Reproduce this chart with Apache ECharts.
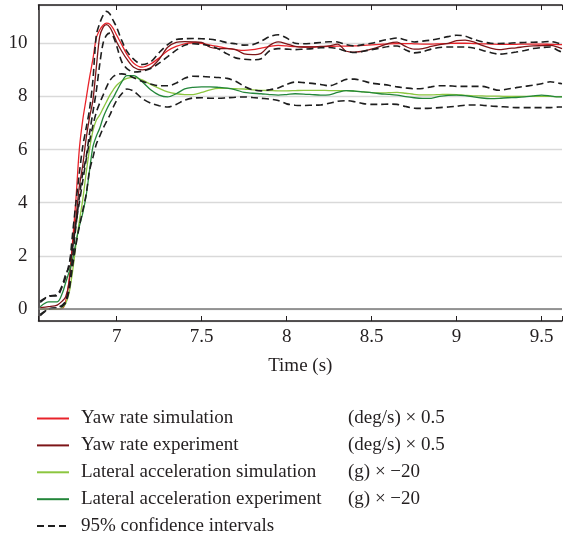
<!DOCTYPE html>
<html>
<head>
<meta charset="utf-8">
<script src="https://cdn.jsdelivr.net/npm/echarts@6/dist/echarts.min.js"></script>
<style>
  html, body { margin: 0; padding: 0; background: #fff; }
  #chart { width: 565px; height: 537px; }
</style>
</head>
<body>
<div id="chart"></div>
<script>
// time axis (s), shared by every curve
const time = [6.55, 6.6, 6.65, 6.68, 6.7, 6.72, 6.74, 6.76, 6.78, 6.8,
  6.82, 6.84, 6.86, 6.88, 6.9, 6.92, 6.94, 6.96, 6.98, 7.0,
  7.03, 7.06, 7.1, 7.15, 7.2, 7.25, 7.3, 7.35, 7.4, 7.45,
  7.5, 7.55, 7.6, 7.65, 7.7, 7.75, 7.8, 7.85, 7.9, 7.95,
  8.0, 8.05, 8.1, 8.15, 8.2, 8.25, 8.3, 8.35, 8.4, 8.45,
  8.5, 8.55, 8.6, 8.65, 8.7, 8.75, 8.8, 8.85, 8.9, 8.95,
  9.0, 9.05, 9.1, 9.15, 9.2, 9.25, 9.3, 9.35, 9.4, 9.45,
  9.5, 9.55, 9.6, 9.62];

// yaw rate (deg/s) x 0.5
const yawSim = [0, 0, 0, 0.02, 0.3, 1.1, 2.5, 4.1, 6.0, 7.1,
  7.9, 8.7, 9.4, 10.2, 10.5, 10.68, 10.76, 10.72, 10.55, 10.3,
  9.95, 9.58, 9.25, 9.1, 9.22, 9.45, 9.72, 9.88, 9.98, 10.02,
  10.0, 9.93, 9.87, 9.81, 9.76, 9.73, 9.76, 9.82, 9.88, 9.92,
  9.9, 9.87, 9.86, 9.86, 9.87, 9.88, 9.89, 9.89, 9.9, 9.92,
  9.94, 9.96, 9.98, 9.99, 9.99, 9.98, 9.97, 9.97, 9.98, 9.99,
  10.0, 10.0, 9.99, 9.98, 9.97, 9.96, 9.96, 9.96, 9.97, 9.97,
  9.97, 9.96, 9.95, 9.95];
const yawExp = [0.05, 0.09, 0.15, 0.3, 0.46, 1.0, 2.3, 3.4, 4.6, 5.4,
  6.4, 7.2, 7.85, 9.08, 10.25, 10.6, 10.7, 10.6, 10.35, 10.05,
  9.7, 9.4, 9.1, 9.0, 9.08, 9.4, 9.85, 10.03, 10.06, 10.05,
  10.03, 9.85, 9.8, 9.8, 9.76, 9.6, 9.57, 9.62, 9.92, 10.05,
  9.98, 9.88, 9.86, 9.86, 9.88, 9.9, 9.97, 9.7, 9.67, 9.7,
  9.78, 9.88, 10.0, 10.04, 9.88, 9.78, 9.8, 9.88, 9.95, 10.0,
  10.1, 10.12, 10.05, 9.92, 9.82, 9.76, 9.8, 9.83, 9.87, 9.9,
  9.91, 9.92, 9.85, 9.8];
const yawUpper = [0.25, 0.48, 0.55, 0.9, 1.3, 1.6, 2.8, 4.0, 5.1, 6.1,
  6.8, 7.5, 8.6, 10.3, 10.75, 11.05, 11.2, 11.1, 10.85, 10.6,
  10.1, 9.7, 9.4, 9.2, 9.3, 9.65, 9.95, 10.14, 10.17, 10.18,
  10.17, 10.15, 10.1, 10.02, 9.98, 9.93, 9.95, 10.08, 10.25, 10.32,
  10.2, 10.0, 9.98, 10.0, 10.03, 10.06, 10.05, 9.95, 9.9, 9.95,
  10.0, 10.08, 10.15, 10.2, 10.12, 10.05, 10.08, 10.12, 10.18, 10.25,
  10.3, 10.27, 10.15, 10.06, 10.0, 9.99, 10.0, 10.02, 10.03, 10.04,
  10.05, 10.07, 10.0, 9.97];
const yawLower = [-0.25, 0.0, 0.05, 0.15, 0.3, 0.8, 1.9, 3.1, 4.2, 5.1,
  5.7, 6.6, 7.4, 8.2, 9.2, 10.0, 10.3, 10.38, 10.25, 9.9,
  9.3, 9.05, 8.92, 8.95, 9.05, 9.25, 9.5, 9.74, 9.93, 9.98,
  9.96, 9.9, 9.78, 9.6, 9.45, 9.4, 9.38, 9.42, 9.72, 9.8,
  9.78, 9.76, 9.78, 9.8, 9.83, 9.84, 9.8, 9.7, 9.65, 9.7,
  9.76, 9.82, 9.88, 9.9, 9.75, 9.64, 9.68, 9.78, 9.84, 9.86,
  9.86, 9.86, 9.82, 9.74, 9.65, 9.59, 9.62, 9.67, 9.73, 9.8,
  9.84, 9.86, 9.72, 9.67];

// lateral acceleration (g) x -20
const latSim = [0, 0, 0, 0.05, 0.21, 0.6, 1.4, 2.4, 3.3, 4.1,
  5.1, 6.0, 6.7, 7.1, 7.3, 7.55, 7.8, 8.05, 8.25, 8.42,
  8.58, 8.68, 8.72, 8.62, 8.45, 8.3, 8.17, 8.1, 8.07, 8.07,
  8.15, 8.25, 8.3, 8.3, 8.29, 8.28, 8.25, 8.23, 8.22, 8.21,
  8.21, 8.22, 8.23, 8.23, 8.23, 8.22, 8.22, 8.22, 8.2, 8.17,
  8.14, 8.13, 8.14, 8.15, 8.12, 8.08, 8.06, 8.06, 8.07, 8.08,
  8.07, 8.04, 8.02, 8.02, 8.01, 8.01, 8.0, 8.0, 8.0, 8.0,
  8.0, 8.0, 7.99, 7.99];
const latExp = [0.09, 0.27, 0.27, 0.59, 1.0, 1.4, 1.85, 2.5, 3.1, 3.6,
  4.25, 5.2, 6.1, 6.5, 6.8, 7.2, 7.5, 7.75, 7.95, 8.2,
  8.55, 8.78, 8.78, 8.55, 8.25, 8.05, 7.98, 8.1, 8.28, 8.34,
  8.36, 8.36, 8.34, 8.31, 8.25, 8.15, 8.12, 8.1, 8.07, 8.05,
  8.07, 8.1, 8.09, 8.07, 8.05, 8.06, 8.15, 8.22, 8.2, 8.17,
  8.14, 8.1, 8.08, 8.05, 7.99, 7.95, 7.93, 7.93, 8.0, 8.04,
  8.05, 8.03, 7.98, 7.94, 7.92, 7.93, 7.95, 7.96, 7.98, 8.02,
  8.05, 8.02, 7.98, 7.98];
const latUpper = [0.3, 0.48, 0.5, 0.85, 1.2, 1.7, 2.3, 3.2, 4.0, 4.8,
  5.6, 6.3, 6.9, 7.4, 7.75, 8.05, 8.35, 8.6, 8.75, 8.82,
  8.85, 8.82, 8.7, 8.57, 8.47, 8.4, 8.4, 8.5, 8.68, 8.76,
  8.75, 8.73, 8.71, 8.68, 8.57, 8.38, 8.25, 8.21, 8.25, 8.32,
  8.45, 8.54, 8.52, 8.49, 8.45, 8.4, 8.5, 8.64, 8.65, 8.58,
  8.5, 8.46, 8.42, 8.36, 8.32, 8.29, 8.3, 8.36, 8.4, 8.4,
  8.38, 8.38, 8.38, 8.38, 8.3, 8.23, 8.28, 8.33, 8.38, 8.42,
  8.48, 8.55, 8.5, 8.48];
const latLower = [-0.2, 0.0, 0.05, 0.1, 0.25, 0.7, 1.6, 2.4, 3.1, 3.7,
  4.3, 5.2, 5.7, 6.2, 6.5, 6.8, 7.05, 7.3, 7.6, 7.85,
  8.1, 8.28, 8.2, 7.92, 7.75, 7.65, 7.6, 7.7, 7.86, 7.94,
  7.95, 7.93, 7.93, 7.95, 7.97, 7.98, 7.96, 7.93, 7.9, 7.85,
  7.72, 7.67, 7.66, 7.67, 7.68, 7.74, 7.82, 7.84, 7.8, 7.73,
  7.7, 7.7, 7.71, 7.7, 7.62, 7.56, 7.55, 7.56, 7.58, 7.6,
  7.63, 7.67, 7.68, 7.67, 7.64, 7.62, 7.6, 7.58, 7.58, 7.58,
  7.58, 7.58, 7.6, 7.6];

const legendNames = ['Yaw rate simulation', 'Yaw rate experiment',
  'Lateral acceleration simulation', 'Lateral acceleration experiment',
  '95% confidence intervals'];
const legendUnits = ['(deg/s) \u00d7 0.5', '(deg/s) \u00d7 0.5',
  '(g) \u00d7 \u221220', '(g) \u00d7 \u221220', ''];

const font = "'Liberation Serif', 'DejaVu Serif', serif";
const fs = 19;
const ciName = legendNames[4];

function pairs(vals) {
  return time.map((t, i) => [t, vals[i]]);
}

function solid(name, vals, color) {
  return {
    name: name, type: 'line', data: pairs(vals), symbol: 'none', smooth: 0.3,
    lineStyle: { color: color, width: 1.3 }, itemStyle: { color: color }, z: 3
  };
}

function dashed(vals) {
  return {
    name: ciName, type: 'line', data: pairs(vals), symbol: 'none', smooth: 0.3,
    lineStyle: { color: '#1e1e1e', width: 1.6, type: [7, 4] },
    itemStyle: { color: '#1e1e1e' }, z: 4
  };
}

const chart = echarts.init(document.getElementById('chart'));

const redSim = solid(legendNames[0], yawSim, '#e8232a');
redSim.markLine = {
  silent: true, symbol: 'none', label: { show: false },
  lineStyle: { color: '#7a7a7a', width: 1.5, type: 'solid' },
  data: [{ yAxis: 0 }]
};

chart.setOption({
  animation: false,
  grid: { left: 38.5, right: 0, top: 5, bottom: 216 },
  xAxis: [{
    type: 'value', min: 6.54, max: 9.62, splitNumber: 6,
    name: 'Time (s)', nameLocation: 'middle', nameGap: 36,
    nameTextStyle: { fontFamily: font, fontSize: fs, color: '#231f20' },
    axisLine: { onZero: false, lineStyle: { color: '#231f20', width: 1.5 } },
    axisTick: { inside: true, length: 5, lineStyle: { color: '#231f20' } },
    axisLabel: {
      fontFamily: font, fontSize: fs, color: '#231f20', margin: 7,
      formatter: v => (Number.isInteger(v * 2) ? String(v) : '')
    },
    splitLine: { show: false }
  }, {
    type: 'value', position: 'top', min: 6.54, max: 9.62, splitNumber: 6,
    axisLine: { onZero: false, lineStyle: { color: '#231f20', width: 1.5 } },
    axisTick: { inside: true, length: 5, lineStyle: { color: '#231f20' } },
    axisLabel: { show: false },
    splitLine: { show: false }
  }],
  yAxis: {
    type: 'value', min: -0.45, max: 11.44, splitNumber: 5,
    axisLine: { show: true, lineStyle: { color: '#231f20', width: 1.5 } },
    axisTick: { show: false },
    axisLabel: {
      fontFamily: font, fontSize: fs, color: '#231f20', margin: 11,
      formatter: v => (Number.isInteger(v) ? String(v) : '')
    },
    splitLine: { lineStyle: { color: '#d9d9d9', width: 1.3 } }
  },
  legend: {
    orient: 'vertical', left: 36, top: 409, padding: 0,
    itemWidth: 32, itemHeight: 14, itemGap: 7.9,
    data: legendNames,
    itemStyle: { opacity: 0 },
    formatter: name => '{a|' + name + '}{b|' + legendUnits[legendNames.indexOf(name)] + '}',
    textStyle: {
      fontFamily: font, fontSize: fs, color: '#231f20', lineHeight: 18,
      rich: {
        a: { fontFamily: font, fontSize: fs, color: '#231f20', lineHeight: 18, width: 267, padding: [0, 0, 0, 7] },
        b: { fontFamily: font, fontSize: fs, color: '#231f20', lineHeight: 18 }
      }
    }
  },
  series: [
    redSim,
    solid(legendNames[1], yawExp, '#7d1518'),
    solid(legendNames[2], latSim, '#8cc63f'),
    solid(legendNames[3], latExp, '#23863a'),
    dashed(yawUpper),
    dashed(yawLower),
    dashed(latUpper),
    dashed(latLower)
  ]
});
</script>
</body>
</html>
